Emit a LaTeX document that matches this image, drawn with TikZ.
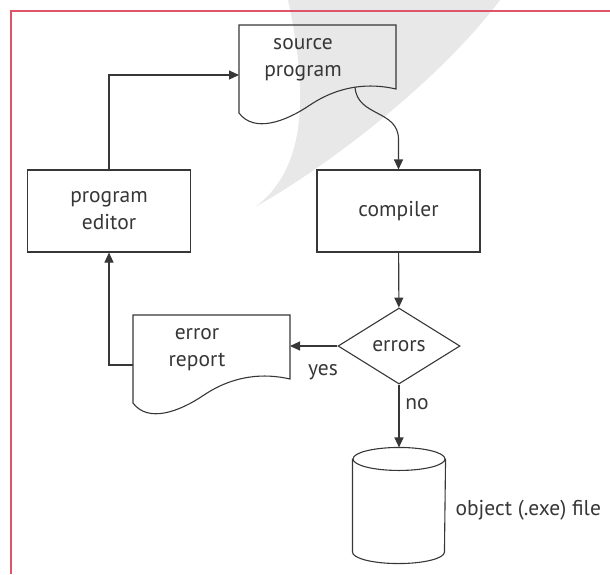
\documentclass[tikz,border=0pt]{standalone}
\usepackage{fontspec}
\setmainfont{PT Sans}
\usepackage{tikz}
\usetikzlibrary{calc, arrows.meta, shapes.geometric}
\definecolor{framered}{RGB}{222,84,104}
\definecolor{swoosh}{RGB}{232,232,232}
\definecolor{ink}{RGB}{55,55,55}

\begin{document}
\begin{tikzpicture}[x=1pt, y=-1pt, line width=1.1pt, color=ink,
	every node/.style={font=\fontsize{21.5}{27}\selectfont, align=center},
	box/.style={draw, minimum width=163, minimum height=82, inner sep=0},
	decision/.style={draw, diamond, minimum width=122, minimum height=76, inner sep=0},
	doctext/.style={inner sep=0},
	store/.style={minimum width=92, minimum height=115, inner sep=0},
	lbl/.style={inner sep=0},
	arr/.style={-{Triangle[length=10pt, width=9pt]}}]
		
		\def\docshape(#1)% Syntax: (text node of the document)
		{ \begin{scope}[shift={($(#1)+(-64,-35)$)}]
			\draw (0,0) -- (157,0) -- (157,64) .. controls (131,58) and (101,60) .. (71,80) .. controls (46,97) and (15,108) .. (0,88) -- cycle;
			\coordinate (#1-w) at (0,50);
			\coordinate (#1-e) at (157,31);
			\coordinate (#1-o) at (116,62);
		  \end{scope} }
		
		\useasboundingbox (0,0) rectangle (610,574);
		\fill[swoosh] (288,0) .. controls (305,80) and (312,165) .. (255,207) .. controls (330,165) and (440,80) .. (500,0) -- cycle;
		\draw[framered, line width=1.5pt] (610,11) -- (11,11) -- (11,574);
		
		\node[doctext] (src) at (303,60) {source\\program};
		\docshape(src);
		\node[box] (edit) at (109,211) {program\\editor};
		\node[box] (comp) at (398.5,211) {compiler};
		\node[decision] (dec) at (399,346) {errors};
		\node[doctext] (rep) at (197,350) {error\\report};
		\docshape(rep);
		\node[store] (obj) at (399,505.5) {};
		\draw ($(obj.north)+(0,11.5)$) ellipse [x radius=46, y radius=11.5];
		\draw ($(obj.north west)+(0,11.5)$) -- ($(obj.south west)+(0,-11.5)$) arc [start angle=180, end angle=0, x radius=46, y radius=11.5] -- ($(obj.north east)+(0,11.5)$);
		
		\draw[arr] (edit.north) |- (src-w);
		\draw[arr] (src-o) .. controls ($(src-o)+(2,30)$) and ($(comp.north)+(0,-60)$) .. ($(comp.north)+(0,-30)$) -- (comp.north);
		\draw[arr] (comp) -- (dec);
		\draw[arr] (dec) -- (rep-e);
		\draw[arr] (rep-w) -| (edit.south);
		\draw[arr] (dec) -- (obj);
		
		\node[lbl] (yes) at (323,372) {yes};
		\node[lbl] (no) at (417,404) {no};
		\node[lbl, anchor=west] (objname) at (455,510) {object (.exe) file};
\end{tikzpicture}
\end{document}
